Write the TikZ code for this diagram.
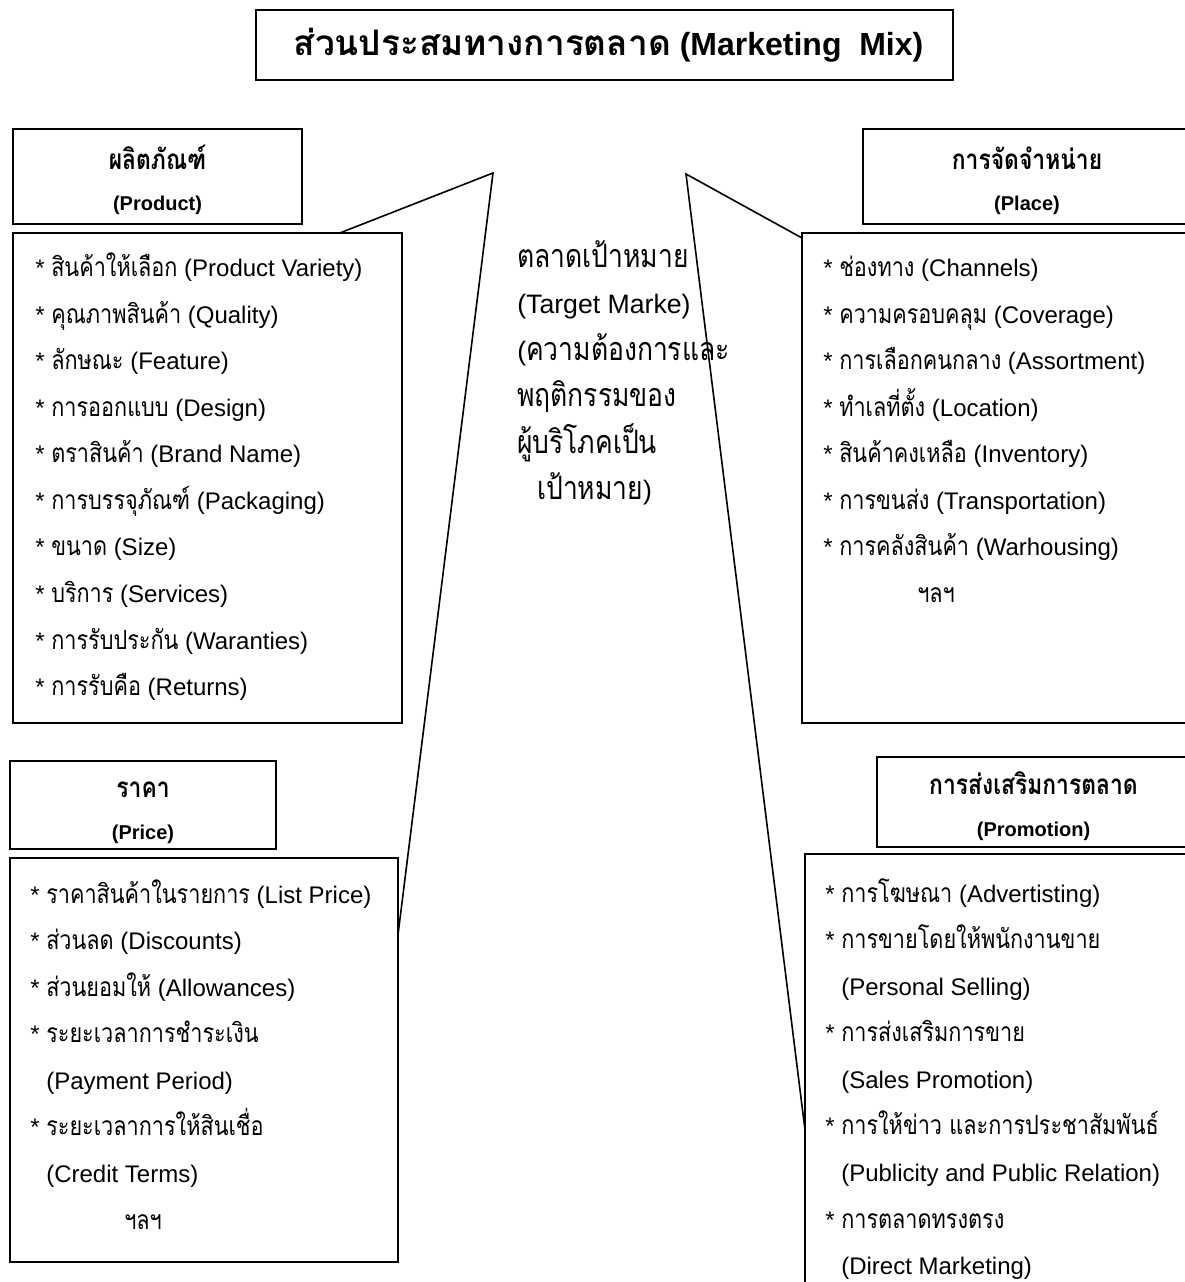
\documentclass[tikz,border=0pt]{standalone}
\usepackage{fontspec}
\setmainfont{Liberation Sans}
\newfontfamily\thaifont[Script=Thai,Scale=1.1,FakeStretch=0.82]{Loma}
\newfontfamily\thaititlefont[Script=Thai,Scale=1.1]{Loma}
\newcommand\thai[1]{{\thaifont #1}}
\newcommand\thaisized[2]{{\fontsize{#1}{34.9}\selectfont\thaifont #2}}
\newcommand\cont{\hphantom{*\ }}
\newcommand\headlines[2]{\rule{0pt}{24pt}\thaisized{19}{#1}\\#2\rule[-4pt]{0pt}{4pt}}
\usetikzlibrary{positioning,calc}

\begin{document}
\begin{tikzpicture}[
    x=0.75pt, y=-0.75pt,
    node distance=6.75pt,
    box/.style={rectangle, draw, line width=1.4pt, inner sep=0pt, outer sep=0pt},
    head/.style={box, align=center, font=\bfseries\fontsize{15}{31}\selectfont},
    items/.style={anchor=north west, inner sep=0pt, align=left, font=\fontsize{18}{34.9}\selectfont},
    link/.style={line width=1.2pt}
  ]
  \useasboundingbox[fill=white] (0,0) rectangle (1185,1282);

  % title
  \node[box, anchor=north west, minimum width=522.75pt, minimum height=52.5pt, font=\bfseries\fontsize{24}{28}\selectfont] (title) at (256,10) {\hspace{6pt}{\thaititlefont ส่วนประสมทางการตลาด} (Marketing\ \ Mix)};

  % product
  \node[head, anchor=north west, minimum width=216.75pt, minimum height=71.25pt] (prodhead) at (13,129) {\headlines{ผลิตภัณฑ์}{(Product)}};
  \node[box, below=of prodhead.south west, anchor=north west, minimum width=291.75pt, minimum height=367.5pt] (prodlist) {};
  \node[items] (prodtext) at (35,244.5) {\rule{0pt}{24pt}* \thai{สินค้าให้เลือก} (Product Variety)\\
    * \thai{คุณภาพสินค้า} (Quality)\\
    * \thai{ลักษณะ} (Feature)\\
    * \thai{การออกแบบ} (Design)\\
    * \thai{ตราสินค้า} (Brand Name)\\
    * \thai{การบรรจุภัณฑ์} (Packaging)\\
    * \thai{ขนาด} (Size)\\
    * \thai{บริการ} (Services)\\
    * \thai{การรับประกัน} (Waranties)\\
    * \thai{การรับคือ} (Returns)};

  % target market
  \node[items, font=\fontsize{20}{34.9}\selectfont] (target) at (517,229.7) {\rule{0pt}{28pt}\thaisized{22}{ตลาดเป้าหมาย}\\
    (Target Marke)\\
    (\thaisized{22}{ความต้องการและ}\\
    \thaisized{22}{พฤติกรรมของ}\\
    \thaisized{22}{ผู้บริโภคเป็น}\\
    \hspace*{15pt}\thaisized{22}{เป้าหมาย})};

  % place
  \node[head, anchor=north west, minimum width=246pt, minimum height=71.25pt] (placehead) at (863,129) {\headlines{การจัดจำหน่าย}{(Place)}};
  \node[box, anchor=north west, minimum width=294.75pt, minimum height=367.5pt] (placelist) at (802,233) {};
  \node[items] (placetext) at (823,244.5) {\rule{0pt}{24pt}* \thai{ช่องทาง} (Channels)\\
    * \thai{ความครอบคลุม} (Coverage)\\
    * \thai{การเลือกคนกลาง} (Assortment)\\
    * \thai{ทำเลที่ตั้ง} (Location)\\
    * \thai{สินค้าคงเหลือ} (Inventory)\\
    * \thai{การขนส่ง} (Transportation)\\
    * \thai{การคลังสินค้า} (Warhousing)\\
    \hspace*{70.5pt}\thai{ฯลฯ}};

  % price
  \node[head, anchor=north west, minimum width=199.5pt, minimum height=66pt] (pricehead) at (10,761) {\headlines{ราคา}{(Price)}};
  \node[box, below=of pricehead.south west, anchor=north west, minimum width=291pt, minimum height=303pt] (pricelist) {};
  \node[items] (pricetext) at (30,871) {\rule{0pt}{24pt}* \thai{ราคาสินค้าในรายการ} (List Price)\\
    * \thai{ส่วนลด} (Discounts)\\
    * \thai{ส่วนยอมให้} (Allowances)\\
    * \thai{ระยะเวลาการชำระเงิน}\\
    \cont(Payment Period)\\
    * \thai{ระยะเวลาการให้สินเชื่อ}\\
    \cont(Credit Terms)\\
    \hspace*{70.5pt}\thai{ฯลฯ}};

  % promotion
  \node[head, anchor=north west, minimum width=234.75pt, minimum height=67.5pt] (promohead) at (877,757) {\headlines{การส่งเสริมการตลาด}{(Promotion)}};
  \node[box, anchor=north west, minimum width=292.5pt, minimum height=334.5pt] (promolist) at (805,854) {};
  \node[items] (promotext) at (825,870) {\rule{0pt}{24pt}* \thai{การโฆษณา} (Advertisting)\\
    * \thai{การขายโดยให้พนักงานขาย}\\
    \cont(Personal Selling)\\
    * \thai{การส่งเสริมการขาย}\\
    \cont(Sales Promotion)\\
    * \thai{การให้ข่าว และการประชาสัมพันธ์}\\
    \cont(Publicity and Public Relation)\\
    * \thai{การตลาดทรงตรง}\\
    \cont(Direct Marketing)};

  % links to the target market
  \coordinate (lapex) at (493,173);
  \coordinate (rapex) at (686,174);
  \draw[link] ($(prodlist.north west)!0.84!(prodlist.north east)$) -- (lapex) -- ($(pricelist.north east)!0.19!(pricelist.south east)$);
  \draw[link] ($(placelist.north west)+(0,5)$) -- (rapex) -- ($(promolist.north west)+(0,276)$);
\end{tikzpicture}
\end{document}
